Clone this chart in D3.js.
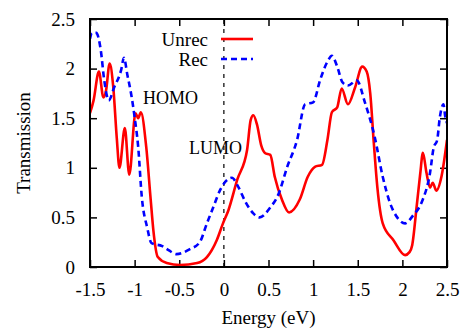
<!DOCTYPE html>
<html>
<head>
<meta charset="utf-8">
<script src="https://cdn.jsdelivr.net/npm/d3@7"></script>
<style>
  body { margin: 0; background: #fff; }
  text { font-family: "Liberation Serif", "Times New Roman", serif; fill: #000; }
</style>
</head>
<body>
<div class="chart"></div>
<script>
(function() {
    var width = 466,
        height = 334;

    var margin = {top: 19, right: 19, bottom: 67, left: 90};

    // Unrec (red, solid)
    var unrecE = [-1.5, -1.46, -1.40, -1.35, -1.32, -1.28, -1.24, -1.20, -1.17, -1.11, -1.06, -0.99, -0.96, -0.93,
        -0.87, -0.82, -0.79, -0.74, -0.64, -0.49, -0.30, -0.19, -0.08, -0.01, 0.05, 0.15, 0.26, 0.30, 0.33, 0.37,
        0.42, 0.46, 0.52, 0.57, 0.65, 0.73, 0.85, 0.94, 1.02, 1.10, 1.16, 1.21, 1.27, 1.32, 1.39, 1.47, 1.55,
        1.60, 1.64, 1.68, 1.72, 1.78, 1.90, 2.03, 2.08, 2.11, 2.16, 2.20, 2.23, 2.27, 2.31, 2.34, 2.38, 2.44, 2.50];
    var unrecT = [1.55, 1.68, 1.97, 1.71, 1.78, 2.05, 1.82, 1.30, 1.00, 1.40, 0.93, 1.55, 1.50, 1.56,
        1.21, 0.68, 0.37, 0.10, 0.04, 0.02, 0.04, 0.10, 0.27, 0.44, 0.57, 0.88, 1.18, 1.48, 1.53, 1.44,
        1.22, 1.15, 1.13, 0.91, 0.68, 0.55, 0.68, 0.91, 1.01, 1.03, 1.28, 1.56, 1.61, 1.80, 1.64, 1.81, 2.02,
        1.97, 1.75, 1.25, 0.80, 0.44, 0.27, 0.12, 0.15, 0.22, 0.61, 0.94, 1.15, 0.95, 0.80, 0.85, 0.77, 0.92, 1.28];

    // Rec (blue, dashed)
    var recE = [-1.5, -1.48, -1.43, -1.38, -1.34, -1.29, -1.23, -1.15, -1.12, -1.08, -1.04, -1.00, -0.96, -0.92,
        -0.86, -0.81, -0.69, -0.62, -0.53, -0.38, -0.27, -0.19, -0.12, -0.04, 0.04, 0.09, 0.16, 0.24, 0.33,
        0.40, 0.52, 0.61, 0.71, 0.82, 0.91, 1.00, 1.08, 1.16, 1.21, 1.27, 1.33, 1.39, 1.49, 1.58, 1.69, 1.78,
        1.86, 1.95, 2.03, 2.12, 2.22, 2.31, 2.35, 2.39, 2.42, 2.46, 2.48, 2.50];
    var recT = [2.30, 2.36, 2.36, 2.19, 1.88, 1.68, 1.81, 1.99, 2.11, 1.93, 1.75, 1.51, 1.21, 0.71,
        0.40, 0.24, 0.21, 0.17, 0.13, 0.18, 0.25, 0.44, 0.60, 0.78, 0.88, 0.90, 0.81, 0.66, 0.54,
        0.50, 0.60, 0.73, 1.01, 1.28, 1.64, 1.66, 1.89, 2.07, 2.13, 2.02, 1.86, 1.83, 1.88, 1.66, 1.31, 0.91,
        0.65, 0.49, 0.44, 0.52, 0.66, 0.95, 1.20, 1.28, 1.51, 1.64, 1.52, 1.45];

    var xTicks = [-1.5, -1, -0.5, 0, 0.5, 1, 1.5, 2, 2.5];
    var yTicks = [0, 0.5, 1, 1.5, 2, 2.5];

    var svg = d3.select(".chart").append("svg")
        .attr("width", width)
        .attr("height", height);

    var x = d3.scaleLinear().domain([-1.5, 2.5]).range([margin.left, width - margin.right]);
    var y = d3.scaleLinear().domain([0, 2.5]).range([height - margin.bottom, margin.top]);

    svg.append("clipPath").attr("id", "plot")
        .append("rect")
        .attr("x", x(-1.5)).attr("y", y(2.5))
        .attr("width", x(2.5) - x(-1.5)).attr("height", y(0) - y(2.5));

    // inward ticks on all four sides
    var tickLen = 7;
    svg.append("g")
        .attr("transform", "translate(0," + y(0) + ")")
        .call(d3.axisBottom(x).tickValues(xTicks).tickSizeInner(-tickLen).tickSizeOuter(0).tickPadding(tickLen + 9)
            .tickFormat(function(d) { return d; }))
        .call(function(g) { g.select(".domain").remove(); });
    svg.append("g")
        .attr("transform", "translate(0," + y(2.5) + ")")
        .call(d3.axisTop(x).tickValues(xTicks).tickSizeInner(-tickLen).tickSizeOuter(0).tickFormat(""))
        .call(function(g) { g.select(".domain").remove(); });
    svg.append("g")
        .attr("transform", "translate(" + x(-1.5) + ",0)")
        .call(d3.axisLeft(y).tickValues(yTicks).tickSizeInner(-tickLen).tickSizeOuter(0).tickPadding(tickLen + 8)
            .tickFormat(function(d) { return d; }))
        .call(function(g) { g.select(".domain").remove(); });
    svg.append("g")
        .attr("transform", "translate(" + x(2.5) + ",0)")
        .call(d3.axisRight(y).tickValues(yTicks).tickSizeInner(-tickLen).tickSizeOuter(0).tickFormat(""))
        .call(function(g) { g.select(".domain").remove(); });

    svg.selectAll(".tick line").attr("stroke", "#000").attr("stroke-width", 1.5);
    svg.selectAll(".tick text")
        .style("font-family", "Liberation Serif")
        .style("font-size", "19px");

    // Fermi level marker
    svg.append("line")
        .attr("x1", x(0)).attr("x2", x(0))
        .attr("y1", y(0)).attr("y2", y(2.5))
        .attr("stroke", "#000")
        .attr("stroke-width", 1.2)
        .attr("stroke-dasharray", "4,5");

    var line = d3.line()
        .x(function(d) { return x(d[0]); })
        .y(function(d) { return y(d[1]); })
        .curve(d3.curveMonotoneX);

    svg.append("path")
        .datum(d3.zip(unrecE, unrecT))
        .attr("clip-path", "url(#plot)")
        .attr("fill", "none")
        .attr("stroke", "#ff0000")
        .attr("stroke-width", 2.6)
        .attr("d", line);

    svg.append("path")
        .datum(d3.zip(recE, recT))
        .attr("clip-path", "url(#plot)")
        .attr("fill", "none")
        .attr("stroke", "#0000ff")
        .attr("stroke-width", 2.6)
        .attr("stroke-dasharray", "6,4")
        .attr("d", line);

    // frame
    svg.append("rect")
        .attr("x", x(-1.5)).attr("y", y(2.5))
        .attr("width", x(2.5) - x(-1.5)).attr("height", y(0) - y(2.5))
        .attr("fill", "none")
        .attr("stroke", "#000")
        .attr("stroke-width", 2);

    // legend
    var legend = [
        {name: "Unrec", color: "#ff0000", dash: null, ty: 46, ly: 39},
        {name: "Rec", color: "#0000ff", dash: "6,4", ty: 66, ly: 59}
    ];
    legend.forEach(function(l) {
        svg.append("text")
            .attr("x", 208).attr("y", l.ty)
            .attr("text-anchor", "end")
            .style("font-size", "19px")
            .text(l.name);
        svg.append("line")
            .attr("x1", 221).attr("x2", 253)
            .attr("y1", l.ly).attr("y2", l.ly)
            .attr("stroke", l.color)
            .attr("stroke-width", 2.6)
            .attr("stroke-dasharray", l.dash);
    });

    svg.append("text").attr("x", 143).attr("y", 104).style("font-size", "18px").text("HOMO");
    svg.append("text").attr("x", 189).attr("y", 154).style("font-size", "18px").text("LUMO");

    svg.append("text")
        .attr("x", (x(-1.5) + x(2.5)) / 2).attr("y", 324)
        .attr("text-anchor", "middle")
        .style("font-size", "19px")
        .text("Energy (eV)");

    svg.append("text")
        .attr("transform", "translate(30," + ((y(0) + y(2.5)) / 2) + ") rotate(-90)")
        .attr("text-anchor", "middle")
        .style("font-size", "19px")
        .text("Transmission");
})();
</script>
</body>
</html>
